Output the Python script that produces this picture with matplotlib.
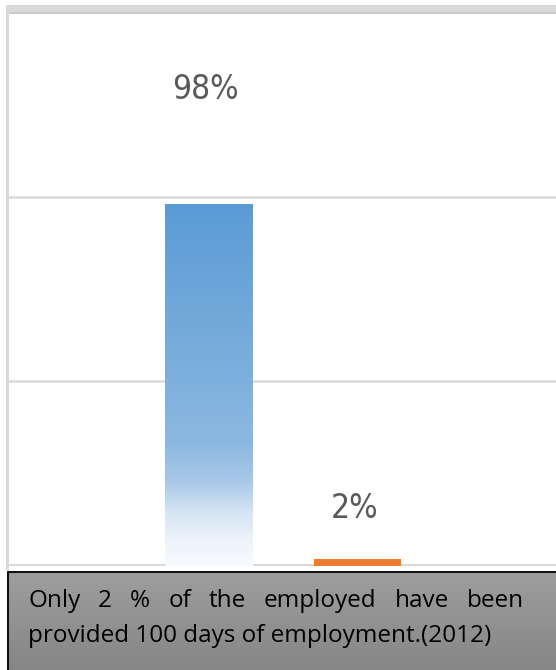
""" share of employed given 100 days of work, with caption box """

import matplotlib.pyplot as plt
import numpy as np
from matplotlib.colors import LinearSegmentedColormap
from matplotlib.patches import Rectangle

# data
categories = ["100 days", "Others"]
values = [98, 2]
value_labels = ["98%", "2%"]
label_pos = [129, 15.7]  # where the labels sit, in % units
bar_colors = ["#5b9bd5", "#ed7d31"]
caption_line1 = ["Only", "2", "%", "of", "the", "employed", "have", "been"]
caption_line2 = "provided 100 days of employment.(2012)"

W, H = 556, 670
fig = plt.figure(figsize=(W / 100, H / 100), dpi=100)
fig.patch.set_facecolor("white")


def px(x0, y0, x1, y1):
    """pixel box (top-left origin) -> figure fraction rect"""
    return [x0 / W, 1 - y1 / H, (x1 - x0) / W, (y1 - y0) / H]


# chart border bits
fig.add_artist(Rectangle((7 / W, 1 - 12 / H), 1, 7 / H, transform=fig.transFigure,
                         color="#d9d9d9", lw=0, zorder=0))
fig.add_artist(Rectangle((6 / W, 1 - 571 / H), 2.5 / W, 566 / H,
                         transform=fig.transFigure, color="#d9d9d9", lw=0, zorder=0))

ax = fig.add_axes(px(8.5, 12, W, 566))
ax.set_ylim(0, 150)
x = np.arange(len(values))
step = 149.0
ax.set_xlim(-(208.5 - 8.5) / step, (W - 208.5) / step)
for s in ax.spines.values():
    s.set_visible(False)
ax.set_xticks([])
ax.set_yticks([])
for g in [50, 100]:
    ax.axhline(g, color="#d9d9d9", lw=1.8, zorder=1)
ax.axhline(150, color="#c8c8c8", lw=2.0, zorder=1)
ax.axhline(0, color="#d9d9d9", lw=3.5, zorder=1)

bars = ax.bar(x, values, width=87 / step, color=bar_colors, zorder=2)

# gradient fill for the first bar (dark at top, fading to white at the base)
grad = LinearSegmentedColormap.from_list(
    "bluefade",
    [(0.0, "#5b9bd5"), (0.66, "#8bb8e0"), (0.77, "#a9c9e8"),
     (0.85, "#d5e4f3"), (0.93, "#edf3fa"), (1.0, "#f7fafd")],
)
b = bars[0]
bx, bw, bh = b.get_x(), b.get_width(), b.get_height()
img = ax.imshow(np.linspace(0, 1, 256).reshape(-1, 1), cmap=grad, aspect="auto",
                extent=[bx, bx + bw, 0, bh], zorder=2.5, origin="upper")
img.set_clip_path(b)
b.set_facecolor("none")
ax.set_xlim(-(208.5 - 8.5) / step, (W - 208.5) / step)
ax.set_ylim(0, 150)

for xi, lab, yp in zip(x, value_labels, label_pos):
    ax.text(xi - 0.02, yp, lab, ha="center", va="center", fontsize=24,
            color="#595959", family=["Liberation Sans Narrow", "DejaVu Sans"],
            fontstretch="condensed")

# caption box
cap = fig.add_axes(px(7, 571, W, H))
cap.set_xlim(0, 1)
cap.set_ylim(0, 1)
cap.axis("off")
grey = LinearSegmentedColormap.from_list("greyfade", ["#9e9e9e", "#868686"])
cap.imshow(np.linspace(0, 1, 64).reshape(-1, 1), cmap=grey, aspect="auto",
           extent=[0, 1, 0, 1], origin="upper")
cap.plot([0, 1], [1, 1], color="#111111", lw=2.2, solid_capstyle="butt")
cap.plot([0, 0], [0, 1], color="#111111", lw=2.2, solid_capstyle="butt")

font = dict(fontsize=17.5, color="black", family=["Open Sans", "DejaVu Sans"])
left, right = 28, 524
y1 = 1 - 601 / H
y2 = 1 - 636 / H

# justified first line: measure words, spread the gaps
fig.canvas.draw()
r = fig.canvas.get_renderer()
words = [fig.text(0, y1, w, va="center", **font) for w in caption_line1]
widths = [t.get_window_extent(r).width for t in words]
gap = (right - left - sum(widths)) / (len(words) - 1)
pos = left
for t, w in zip(words, widths):
    t.set_x(pos / W)
    pos += w + gap

fig.text(left / W, y2, caption_line2, va="center", **font)

fig.savefig("out.png", dpi=100)
